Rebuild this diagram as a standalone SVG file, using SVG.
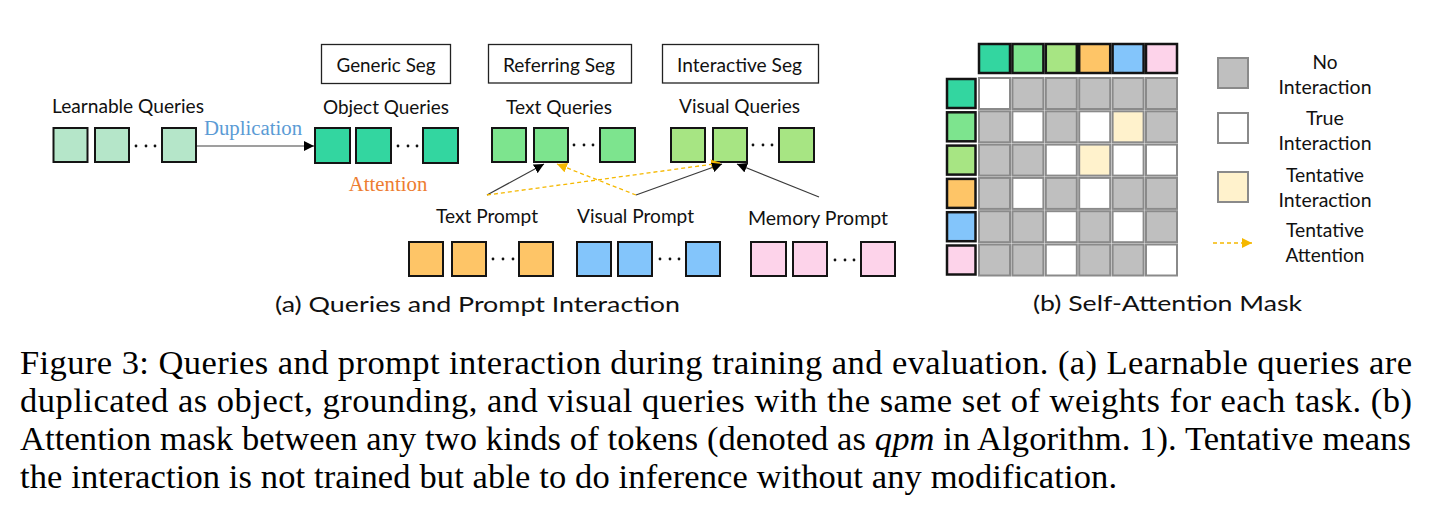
<svg xmlns="http://www.w3.org/2000/svg" width="1443" height="506" viewBox="0 0 1443 506">
<style>
.lbl{font-family:Lato,"Open Sans","Liberation Sans",sans-serif;font-size:19.5px;fill:#111;text-anchor:middle}
.sub{font-family:Lato,"Open Sans","Liberation Sans",sans-serif;font-size:21.5px;fill:#111;text-anchor:middle}
.ser{font-family:"Liberation Serif","Times New Roman",serif;font-size:20.8px;text-anchor:middle}
.cap{font-family:"Liberation Serif","Times New Roman",serif;font-size:34.5px;fill:#000}
.q{stroke:#141414;stroke-width:2}
.hdr{fill:#fff;stroke:#222;stroke-width:1.3}
.c{stroke:#8a8a8a;stroke-width:2}
.g{fill:#bfbfbf}.w{fill:#fff}.t{fill:#fff2cc}
.h{stroke:#141414;stroke-width:2.5}
.dot{fill:#111}
.ln{stroke:#3a3a3a;stroke-width:1.2;fill:none}
.dash{stroke:#f5b800;stroke-width:1.3;stroke-dasharray:4 3;fill:none}
.c1{fill:#b5e6c9}.c2{fill:#33d6a0}.c3{fill:#7de48e}.c4{fill:#a7e583}.c5{fill:#fec567}.c6{fill:#83c5fb}.c7{fill:#fdd3ea}
</style>
<defs>
<marker id="ab" markerUnits="userSpaceOnUse" markerWidth="12" markerHeight="10" refX="10" refY="5" orient="auto"><path d="M0,0 L10,5 L0,10 z" fill="#000"/></marker>
<marker id="ay" markerUnits="userSpaceOnUse" markerWidth="12" markerHeight="10" refX="10" refY="5" orient="auto"><path d="M0,0 L10,5 L0,10 z" fill="#f5b800"/></marker>
</defs>

<g id="learnable">
<text class="lbl" x="128" y="113" textLength="152" lengthAdjust="spacingAndGlyphs">Learnable Queries</text>
<rect class="q c1" x="53.5" y="128" width="34" height="34"/>
<rect class="q c1" x="95" y="128" width="34" height="34"/>
<circle class="dot" cx="136" cy="146" r="1.4"/><circle class="dot" cx="146" cy="146" r="1.4"/><circle class="dot" cx="155" cy="146" r="1.4"/>
<rect class="q c1" x="162" y="128" width="34" height="34"/>
</g>

<g id="generic-seg">
<rect class="hdr" x="321.5" y="44.5" width="129" height="39"/>
<text class="lbl" x="386" y="72" textLength="99" lengthAdjust="spacingAndGlyphs">Generic Seg</text>
</g>
<g id="object-queries">
<text class="lbl" x="386" y="114" textLength="126" lengthAdjust="spacingAndGlyphs">Object Queries</text>
<rect class="q c2" x="315" y="128" width="35" height="35"/>
<rect class="q c2" x="356" y="128" width="35" height="35"/>
<circle class="dot" cx="398" cy="146" r="1.4"/><circle class="dot" cx="408" cy="146" r="1.4"/><circle class="dot" cx="417" cy="146" r="1.4"/>
<rect class="q c2" x="423" y="128" width="35" height="35"/>
</g>

<g id="referring-seg">
<rect class="hdr" x="488.5" y="44.5" width="143" height="38.5"/>
<text class="lbl" x="559" y="72" textLength="112" lengthAdjust="spacingAndGlyphs">Referring Seg</text>
</g>
<g id="text-queries">
<text class="lbl" x="559" y="114" textLength="106" lengthAdjust="spacingAndGlyphs">Text Queries</text>
<rect class="q c3" x="492" y="128" width="34" height="34"/>
<rect class="q c3" x="534" y="128" width="34" height="34"/>
<circle class="dot" cx="574" cy="145" r="1.4"/><circle class="dot" cx="584" cy="145" r="1.4"/><circle class="dot" cx="593" cy="145" r="1.4"/>
<rect class="q c3" x="600" y="128" width="35" height="34"/>
</g>

<g id="interactive-seg">
<rect class="hdr" x="662.5" y="44.5" width="156" height="38.5"/>
<text class="lbl" x="739.5" y="72" textLength="125" lengthAdjust="spacingAndGlyphs">Interactive Seg</text>
</g>
<g id="visual-queries">
<text class="lbl" x="739.5" y="113" textLength="121" lengthAdjust="spacingAndGlyphs">Visual Queries</text>
<rect class="q c4" x="671" y="128" width="34" height="34"/>
<rect class="q c4" x="713" y="128" width="34" height="34"/>
<circle class="dot" cx="753" cy="145" r="1.4"/><circle class="dot" cx="763" cy="145" r="1.4"/><circle class="dot" cx="772" cy="145" r="1.4"/>
<rect class="q c4" x="779" y="128" width="35" height="34"/>
</g>

<g id="text-prompt">
<text class="lbl" x="487" y="223" textLength="102" lengthAdjust="spacingAndGlyphs">Text Prompt</text>
<rect class="q c5" x="409" y="242" width="34" height="34"/>
<rect class="q c5" x="452" y="242" width="34" height="34"/>
<circle class="dot" cx="493" cy="259" r="1.4"/><circle class="dot" cx="503" cy="259" r="1.4"/><circle class="dot" cx="513" cy="259" r="1.4"/>
<rect class="q c5" x="519" y="242" width="34" height="34"/>
</g>
<g id="visual-prompt">
<text class="lbl" x="635.5" y="223" textLength="117" lengthAdjust="spacingAndGlyphs">Visual Prompt</text>
<rect class="q c6" x="577" y="242" width="34" height="34"/>
<rect class="q c6" x="618" y="242" width="34" height="34"/>
<circle class="dot" cx="660" cy="259" r="1.4"/><circle class="dot" cx="670" cy="259" r="1.4"/><circle class="dot" cx="679" cy="259" r="1.4"/>
<rect class="q c6" x="686" y="242" width="34" height="34"/>
</g>
<g id="memory-prompt">
<text class="lbl" x="818" y="225" textLength="140" lengthAdjust="spacingAndGlyphs">Memory Prompt</text>
<rect class="q c7" x="751" y="242" width="35" height="34"/>
<rect class="q c7" x="793" y="242" width="34" height="34"/>
<circle class="dot" cx="835" cy="260" r="1.4"/><circle class="dot" cx="845" cy="260" r="1.4"/><circle class="dot" cx="854" cy="260" r="1.4"/>
<rect class="q c7" x="861" y="242" width="34" height="34"/>
</g>

<g id="connectors">
<line x1="197" y1="146" x2="314" y2="146" stroke="#7f7f7f" stroke-width="1.3" marker-end="url(#ab)"/>
<text class="ser" x="253" y="135" fill="#5b9bd5">Duplication</text>
<text class="ser" x="388" y="191" fill="#ed7d31">Attention</text>
<line class="ln" x1="487" y1="195" x2="544" y2="164" marker-end="url(#ab)"/>
<line class="dash" x1="487" y1="195" x2="721" y2="163" marker-end="url(#ay)"/>
<line class="dash" x1="636" y1="195" x2="557" y2="164" marker-end="url(#ay)"/>
<line class="ln" x1="636" y1="195" x2="722" y2="164" marker-end="url(#ab)"/>
<line class="ln" x1="819" y1="197" x2="737" y2="164" marker-end="url(#ab)"/>
</g>

<text id="caption-a" class="sub" x="477.5" y="312" textLength="405" lengthAdjust="spacingAndGlyphs">(a) Queries and Prompt Interaction</text>

<g id="mask-header">
<rect class="h c2" x="979" y="44" width="31" height="29"/>
<rect class="h c3" x="1012.4" y="44" width="31" height="29"/>
<rect class="h c4" x="1045.8" y="44" width="31" height="29"/>
<rect class="h c5" x="1079.2" y="44" width="31" height="29"/>
<rect class="h c6" x="1112.6" y="44" width="31" height="29"/>
<rect class="h c7" x="1146" y="44" width="31" height="29"/>
<rect class="h c2" x="947" y="79" width="28.5" height="29"/>
<rect class="h c3" x="947" y="112.3" width="28.5" height="29"/>
<rect class="h c4" x="947" y="145.6" width="28.5" height="29"/>
<rect class="h c5" x="947" y="178.9" width="28.5" height="29"/>
<rect class="h c6" x="947" y="212.2" width="28.5" height="29"/>
<rect class="h c7" x="947" y="245.5" width="28.5" height="29"/>
</g>
<g id="mask-grid">
<rect class="c w" x="979" y="78" width="31" height="31"/><rect class="c g" x="1012.4" y="78" width="31" height="31"/><rect class="c g" x="1045.8" y="78" width="31" height="31"/><rect class="c g" x="1079.2" y="78" width="31" height="31"/><rect class="c g" x="1112.6" y="78" width="31" height="31"/><rect class="c g" x="1146" y="78" width="31" height="31"/>
<rect class="c g" x="979" y="111.3" width="31" height="31"/><rect class="c w" x="1012.4" y="111.3" width="31" height="31"/><rect class="c g" x="1045.8" y="111.3" width="31" height="31"/><rect class="c w" x="1079.2" y="111.3" width="31" height="31"/><rect class="c t" x="1112.6" y="111.3" width="31" height="31"/><rect class="c g" x="1146" y="111.3" width="31" height="31"/>
<rect class="c g" x="979" y="144.6" width="31" height="31"/><rect class="c g" x="1012.4" y="144.6" width="31" height="31"/><rect class="c w" x="1045.8" y="144.6" width="31" height="31"/><rect class="c t" x="1079.2" y="144.6" width="31" height="31"/><rect class="c w" x="1112.6" y="144.6" width="31" height="31"/><rect class="c w" x="1146" y="144.6" width="31" height="31"/>
<rect class="c g" x="979" y="177.9" width="31" height="31"/><rect class="c w" x="1012.4" y="177.9" width="31" height="31"/><rect class="c g" x="1045.8" y="177.9" width="31" height="31"/><rect class="c w" x="1079.2" y="177.9" width="31" height="31"/><rect class="c g" x="1112.6" y="177.9" width="31" height="31"/><rect class="c g" x="1146" y="177.9" width="31" height="31"/>
<rect class="c g" x="979" y="211.2" width="31" height="31"/><rect class="c g" x="1012.4" y="211.2" width="31" height="31"/><rect class="c w" x="1045.8" y="211.2" width="31" height="31"/><rect class="c g" x="1079.2" y="211.2" width="31" height="31"/><rect class="c w" x="1112.6" y="211.2" width="31" height="31"/><rect class="c g" x="1146" y="211.2" width="31" height="31"/>
<rect class="c g" x="979" y="244.5" width="31" height="31"/><rect class="c g" x="1012.4" y="244.5" width="31" height="31"/><rect class="c w" x="1045.8" y="244.5" width="31" height="31"/><rect class="c g" x="1079.2" y="244.5" width="31" height="31"/><rect class="c g" x="1112.6" y="244.5" width="31" height="31"/><rect class="c w" x="1146" y="244.5" width="31" height="31"/>
</g>

<g id="legend">
<rect class="c g" x="1218" y="58" width="30" height="30"/>
<text class="lbl" x="1325" y="69" textLength="25" lengthAdjust="spacingAndGlyphs">No</text>
<text class="lbl" x="1325" y="94" textLength="93" lengthAdjust="spacingAndGlyphs">Interaction</text>
<rect class="c w" x="1218" y="113" width="30" height="30"/>
<text class="lbl" x="1325" y="125" textLength="38" lengthAdjust="spacingAndGlyphs">True</text>
<text class="lbl" x="1325" y="150" textLength="93" lengthAdjust="spacingAndGlyphs">Interaction</text>
<rect class="c t" x="1218" y="172" width="30" height="30"/>
<text class="lbl" x="1325" y="182" textLength="78" lengthAdjust="spacingAndGlyphs">Tentative</text>
<text class="lbl" x="1325" y="207" textLength="93" lengthAdjust="spacingAndGlyphs">Interaction</text>
<line class="dash" x1="1213" y1="243" x2="1252" y2="243" marker-end="url(#ay)"/>
<text class="lbl" x="1325" y="237" textLength="78" lengthAdjust="spacingAndGlyphs">Tentative</text>
<text class="lbl" x="1325" y="262" textLength="79" lengthAdjust="spacingAndGlyphs">Attention</text>
</g>

<text id="caption-b" class="sub" x="1167.5" y="311" textLength="269" lengthAdjust="spacingAndGlyphs">(b) Self-Attention Mask</text>

<g id="figure-caption">
<text class="cap" x="20" y="374" textLength="1392" lengthAdjust="spacing">Figure 3: Queries and prompt interaction during training and evaluation. (a) Learnable queries are</text>
<text class="cap" x="20" y="412" textLength="1392" lengthAdjust="spacing">duplicated as object, grounding, and visual queries with the same set of weights for each task. (b)</text>
<text class="cap" x="20" y="450" textLength="1391" lengthAdjust="spacing">Attention mask between any two kinds of tokens (denoted as <tspan font-style="italic">qpm</tspan> in Algorithm. 1). Tentative means</text>
<text class="cap" x="20" y="488" textLength="1097" lengthAdjust="spacing">the interaction is not trained but able to do inference without any modification.</text>
</g>
</svg>
